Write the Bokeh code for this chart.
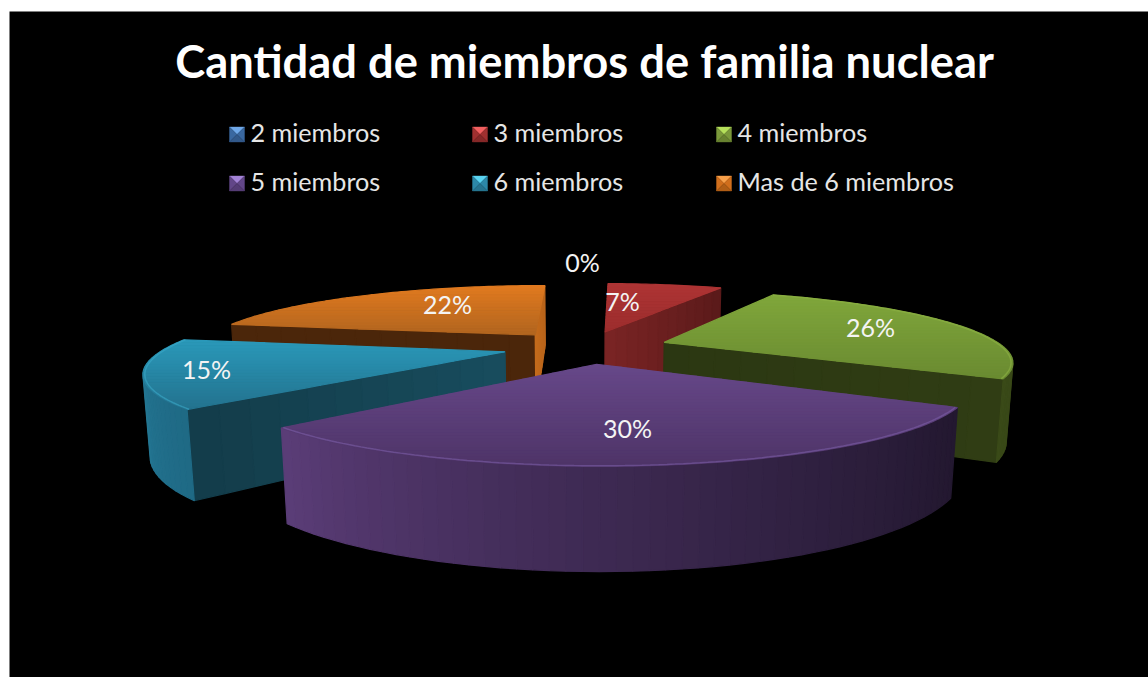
import math
from bokeh.plotting import figure
from bokeh.models import Range1d, ColumnDataSource
from bokeh.core.properties import value
from bokeh.embed import file_html
from bokeh.resources import INLINE

# ---- data ----
categories = ["2 miembros", "3 miembros", "4 miembros", "5 miembros", "6 miembros", "Mas de 6 miembros"]
shares = [0.4, 7.0, 25.9, 29.55, 15.05, 22.1]
pct_labels = ["0%", "7%", "26%", "30%", "15%", "22%"]
title = "Cantidad de miembros de familia nuclear"

# ---- styles ----
top_colors = [("#4F81BD", "#4F81BD"), ("#AE3434", "#9C2D2D"), ("#80A73B", "#6A8A31"),
              ("#674889", "#4E3468"), ("#2A99BA", "#23728E"), ("#E17A1F", "#B2651F")]
outer_colors = [("#2F4D71", "#2F4D71"), ("#7A2424", "#5E1C1C"), ("#2D3913", "#3A4A18"),
                ("#231830", "#5B3D78"), ("#1F6A85", "#2C8BAA"), ("#8A4A12", "#8A4A12")]
face0_colors = [("#2F4D71", "#2F4D71"), ("#6E2020", "#6E2020"), ("#2D3913", "#2D3913"),
                ("#231830", "#231830"), ("#184D5E", "#133C4A"), ("#4B260A", "#4B260A")]
face1_colors = [("#2F4D71", "#2F4D71"), ("#7A2424", "#5A1A1A"), ("#2B3712", "#303D14"),
                ("#231830", "#231830"), ("#1F6A85", "#1F6A85"), ("#C56B1C", "#B8641A")]
bevel_colors = [None, None, "#8DB345", "#7C5DA6", "#3AA9C8", None]
swatch_light = ["#6FA8E8", "#F26060", "#B5E05A", "#A383D6", "#5AD4F2", "#F7A04A"]
swatch_base = ["#3A68A0", "#A03030", "#7A983A", "#624688", "#2C88A8", "#D06E1C"]
swatch_dark = ["#32598A", "#862828", "#688230", "#553C75", "#267490", "#B05E16"]
label_xy = [(582, 261), (622, 300), (870, 326), (627, 427), (206, 368), (447, 303)]
legend_x = [229, 472, 716]
legend_y = [134, 183]

# ---- projection of the tilted, exploded pie ----
CX, CY, SX, A, B, C, Q, EXPLODE = 585.5, 346.5, 339.0, 66.8, 0.245, 0.015, 76.5, 0.245


def proj(X, Y, Z=0.0):
    d = 1 + B * Y + C * Z
    return CX + SX * X / d, CY - (A * Y - Q * Z) / d


def rgb(h):
    return tuple(int(h[i:i + 2], 16) for i in (1, 3, 5))


def mix(a, b, t):
    t = max(0.0, min(1.0, t))
    ca, cb = rgb(a), rgb(b)
    return "#%02x%02x%02x" % tuple(round(ca[i] + (cb[i] - ca[i]) * t) for i in range(3))


def area(pts):
    s = 0.0
    for i, (x0, y0) in enumerate(pts):
        x1, y1 = pts[(i + 1) % len(pts)]
        s += x0 * y1 - x1 * y0
    return s


def clip(poly, ylim, keep_below):
    out = []
    inside = (lambda p: p[1] >= ylim) if keep_below else (lambda p: p[1] <= ylim)
    for i, p in enumerate(poly):
        q = poly[(i + 1) % len(poly)]
        if inside(p):
            out.append(p)
        if inside(p) != inside(q):
            t = (ylim - p[1]) / (q[1] - p[1])
            out.append((p[0] + (q[0] - p[0]) * t, ylim))
    return out


xs, ys, cols = [], [], []
bevel_x, bevel_y, bevel_c = [], [], []


def add(pts, c):
    xs.append([p[0] for p in pts])
    ys.append([p[1] for p in pts])
    cols.append(c)


total = sum(shares)
spans = []
run = 0.0
for v in shares:
    spans.append((run / total * 360, (run + v) / total * 360))
    run += v


def draw_slice(i):
    t0, t1 = spans[i]
    mid = math.radians((t0 + t1) / 2)
    ox, oy = EXPLODE * math.sin(mid), EXPLODE * math.cos(mid)
    wp = lambda th, r=1.0: (ox + r * math.sin(math.radians(th)), oy + r * math.cos(math.radians(th)))

    # radial faces, cut into strips for the shading
    n = 12
    for th, cols2, rev in ((t0, face0_colors[i], False), (t1, face1_colors[i], True)):
        for k in range(n):
            r0, r1 = k / n, (k + 1) / n
            a, b = wp(th, r0), wp(th, r1)
            if rev:
                a, b = b, a
            quad = [proj(*a), proj(*b), proj(*b, 1.0), proj(*a, 1.0)]
            if area(quad) < 0:
                add(quad, mix(cols2[0], cols2[1], (k + .5) / n))

    # outer wall
    steps = max(2, int((t1 - t0) / 2))
    for k in range(steps):
        a0 = t0 + (t1 - t0) * k / steps
        a1 = t0 + (t1 - t0) * (k + 1) / steps
        a, b = wp(a0), wp(a1)
        quad = [proj(*a), proj(*b), proj(*b, 1.0), proj(*a, 1.0)]
        if area(quad) < 0:
            add(quad, mix(outer_colors[i][0], outer_colors[i][1], ((k + .5) / steps) ** 1.3))

    # top, banded for the vertical gradient
    top = [proj(ox, oy)] + [proj(*wp(t0 + (t1 - t0) * k / (2 * steps))) for k in range(2 * steps + 1)]
    ymin, ymax = min(p[1] for p in top), max(p[1] for p in top)
    bands = max(1, int((ymax - ymin) / 3))
    for k in range(bands):
        y0 = ymin + (ymax - ymin) * k / bands
        y1 = ymin + (ymax - ymin) * (k + 1) / bands
        piece = clip(clip(top, y0, True), y1, False)
        if len(piece) >= 3:
            add(piece, mix(top_colors[i][0], top_colors[i][1], (k + .5) / bands))

    if bevel_colors[i]:
        arc = [proj(*wp(t0 + (t1 - t0) * k / (2 * steps), 0.995)) for k in range(2 * steps + 1)]
        bevel_x.append([p[0] for p in arc])
        bevel_y.append([p[1] for p in arc])
        bevel_c.append(bevel_colors[i])


p = figure(width=1148, height=677, output_backend="svg", toolbar_location=None,
           x_range=Range1d(0, 1148), y_range=Range1d(677, 0), min_border=0,
           background_fill_color="#FFFFFF", border_fill_color="#FFFFFF", outline_line_color=None)
p.axis.visible = False
p.grid.visible = False

p.quad(left=9, right=1148, top=11, bottom=677, fill_color="#000000", line_color=None)

for idx in (0, 1, 5, 2, 4, 3):
    if shares[idx] >= 1:
        draw_slice(idx)

p.patches(xs="xs", ys="ys", fill_color="cols", line_color="cols", line_width=1.2,
          source=ColumnDataSource(dict(xs=xs, ys=ys, cols=cols)))
p.multi_line(xs="x", ys="y", line_color="c", line_width=1.5, line_alpha=0.6,
             source=ColumnDataSource(dict(x=bevel_x, y=bevel_y, c=bevel_c)))

# data labels
p.text(x=[q[0] for q in label_xy], y=[q[1] for q in label_xy], text=pct_labels,
       text_font=value("Lato"), text_font_size="25px", text_color="#F4F4F4",
       text_align="center", text_baseline="middle")

# title
p.text(x=[584], y=[59.5], text=[title], text_font=value("Lato"), text_font_style="bold",
       text_font_size="45.3px", text_color="#FFFFFF", text_align="center", text_baseline="middle")

# legend
S = 15
sx, sy, sc = [], [], []
for i, name in enumerate(categories):
    x0 = legend_x[i % 3]
    yc = legend_y[i // 3]
    l, r, t, b = x0, x0 + S, yc - S / 2, yc + S / 2
    mx, my = x0 + S / 2, yc
    for tri, c in (([(l, t), (r, t), (mx, my)], swatch_light[i]),
                   ([(l, t), (l, b), (mx, my)], swatch_base[i]),
                   ([(r, t), (r, b), (mx, my)], swatch_base[i]),
                   ([(l, b), (r, b), (mx, my)], swatch_dark[i])):
        sx.append([q[0] for q in tri])
        sy.append([q[1] for q in tri])
        sc.append(c)
p.patches(xs="x", ys="y", fill_color="c", line_color="c", line_width=0.4,
          source=ColumnDataSource(dict(x=sx, y=sy, c=sc)))
p.text(x=[legend_x[i % 3] + 21 for i in range(6)], y=[legend_y[i // 3] - 3 for i in range(6)],
       text=categories, text_font=value("Lato"), text_font_size="25.2px", text_color="#E6E6E6",
       text_align="left", text_baseline="middle")

open("out.html", "w").write(file_html(p, INLINE))
